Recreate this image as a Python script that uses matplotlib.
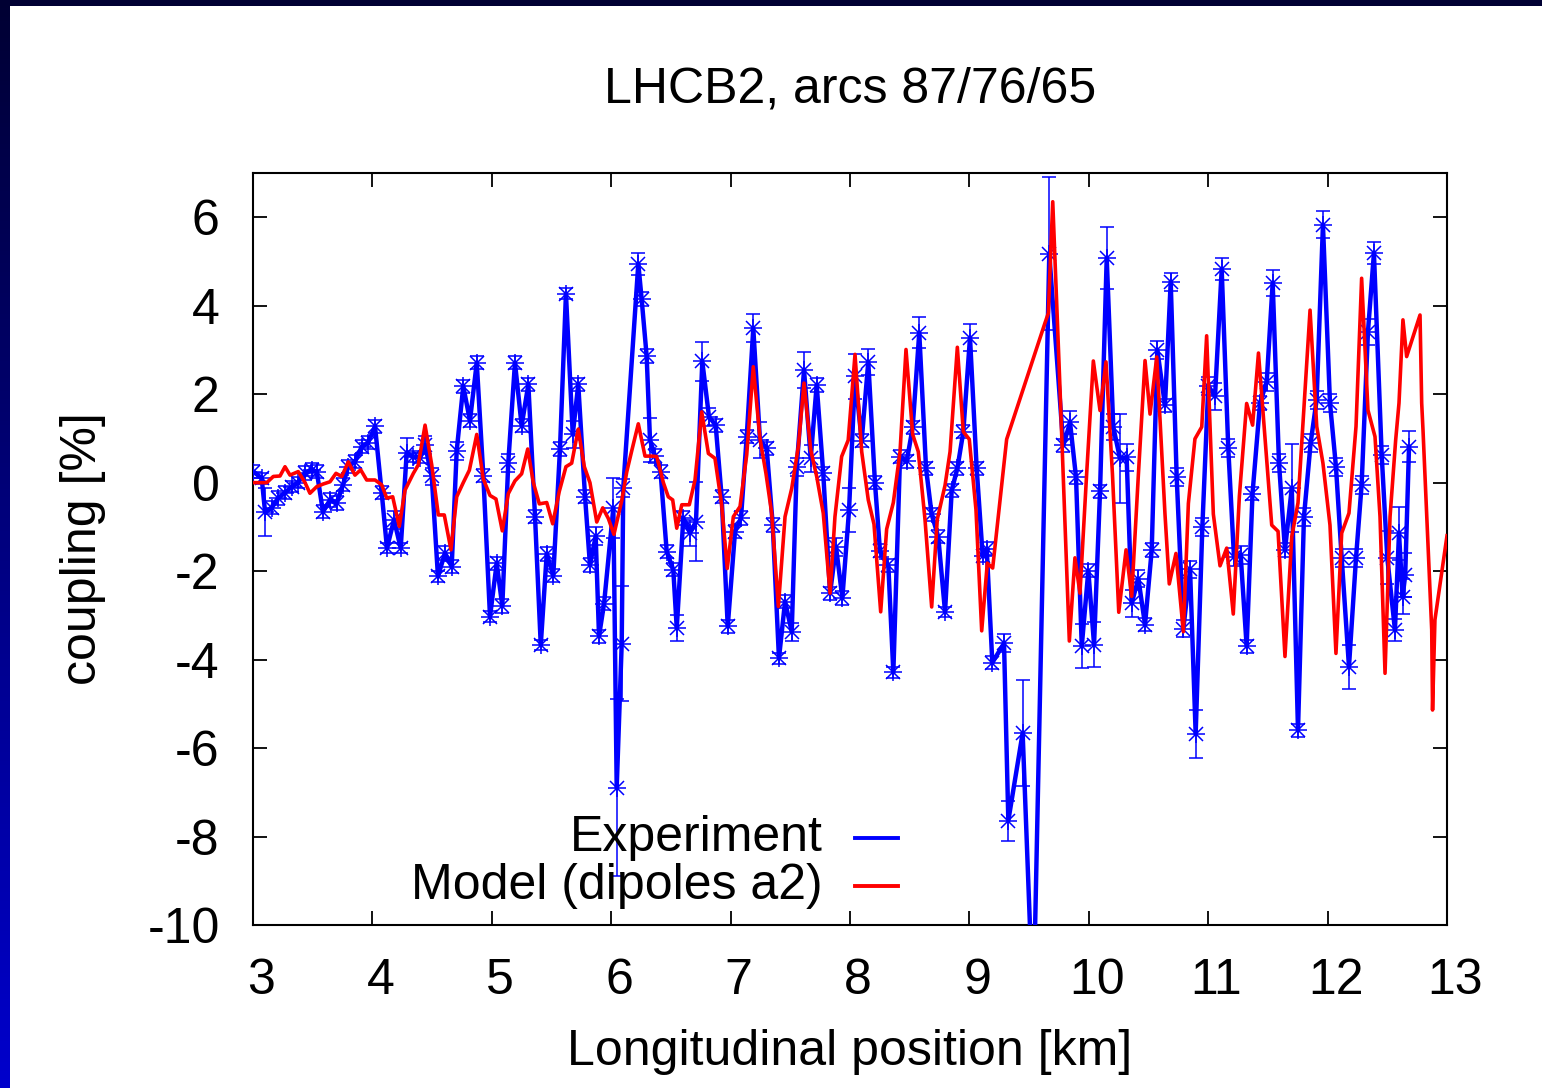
import numpy as np
import matplotlib.pyplot as plt
import matplotlib.transforms as mtransforms
from matplotlib.colors import LinearSegmentedColormap
from matplotlib.lines import Line2D

# measured coupling (BPM positions in km, coupling in %, error in %)
exp_km = [3.003, 3.073, 3.101, 3.157, 3.209, 3.268, 3.324, 3.377, 3.436, 3.492,
          3.534, 3.586, 3.645, 3.701, 3.754, 3.796, 3.854, 3.910, 3.963, 4.022,
          4.078, 4.122, 4.181, 4.237, 4.287, 4.340, 4.399, 4.441, 4.497, 4.549,
          4.608, 4.664, 4.706, 4.761, 4.817, 4.874, 4.929, 4.985, 5.041, 5.088,
          5.138, 5.194, 5.250, 5.306, 5.362, 5.410, 5.460, 5.515, 5.571, 5.621,
          5.678, 5.724, 5.781, 5.822, 5.870, 5.898, 5.940, 6.018, 6.046, 6.088,
          6.101, 6.227, 6.255, 6.297, 6.325, 6.367, 6.413, 6.465, 6.520, 6.549,
          6.604, 6.660, 6.710, 6.763, 6.819, 6.875, 6.925, 6.976, 7.037, 7.087,
          7.135, 7.190, 7.246, 7.302, 7.353, 7.405, 7.456, 7.512, 7.554, 7.615,
          7.671, 7.721, 7.776, 7.833, 7.883, 7.936, 7.992, 8.042, 8.098, 8.153,
          8.209, 8.251, 8.321, 8.363, 8.419, 8.475, 8.525, 8.580, 8.637, 8.684,
          8.739, 8.796, 8.852, 8.899, 8.949, 9.005, 9.061, 9.111, 9.145, 9.192,
          9.290, 9.326, 9.446, 9.535, 9.669, 9.786, 9.843, 9.893, 9.941, 9.996,
          10.044, 10.094, 10.150, 10.205, 10.261, 10.317, 10.359, 10.415, 10.471, 10.527,
          10.574, 10.638, 10.686, 10.736, 10.792, 10.848, 10.895, 10.951, 11.001, 11.057,
          11.113, 11.168, 11.216, 11.272, 11.322, 11.371, 11.434, 11.490, 11.540, 11.593,
          11.643, 11.700, 11.752, 11.802, 11.858, 11.908, 11.961, 12.020, 12.070, 12.118,
          12.179, 12.238, 12.285, 12.338, 12.388, 12.453, 12.500, 12.564, 12.598, 12.628,
          12.650, 12.682]
exp_cpl = [0.25, 0.10, -0.66, -0.57, -0.35, -0.23, -0.09, 0.00, 0.22, 0.29,
           0.25, -0.66, -0.39, -0.46, -0.05, 0.36, 0.47, 0.81, 0.90, 1.27,
           -0.23, -1.48, -0.84, -1.48, 0.67, 0.59, 0.56, 0.85, 0.14, -2.12,
           -1.59, -1.90, 0.72, 2.18, 1.40, 2.71, 0.16, -3.03, -1.82, -2.79,
           0.45, 2.71, 1.29, 2.22, -0.77, -3.67, -1.61, -2.10, 0.76, 4.27,
           1.09, 2.22, -0.32, -1.86, -1.21, -3.47, -2.74, -0.57, -6.90, -3.64,
           -0.12, 4.95, 4.15, 2.86, 0.96, 0.60, 0.25, -1.56, -1.97, -3.29,
           -0.80, -1.14, -0.88, 2.74, 1.49, 1.30, -0.32, -3.25, -1.11, -0.80,
           1.04, 3.49, 0.96, 0.78, -0.96, -3.97, -2.69, -3.37, 0.36, 2.55,
           0.55, 2.21, 0.21, -2.50, -1.45, -2.61, -0.62, 2.40, 0.95, 2.73,
           0.00, -1.54, -1.87, -4.29, 0.59, 0.48, 1.25, 3.39, 0.32, -0.72,
           -1.22, -2.92, -0.17, 0.32, 1.15, 3.28, 0.32, -1.65, -1.49, -4.07,
           -3.63, -7.64, -5.66, -12.0, 5.17, 0.84, 1.36, 0.12, -3.70, -1.99,
           -3.66, -0.20, 5.08, 1.26, 0.55, 0.57, -2.73, -2.17, -3.21, -1.52,
           3.00, 1.75, 4.54, 0.13, -3.30, -1.96, -5.68, -1.00, 2.19, 1.95,
           4.82, 0.78, -1.68, -1.64, -3.70, -0.25, 1.80, 2.28, 4.51, 0.44,
           -1.52, -0.12, -5.60, -0.77, 0.90, 1.87, 5.83, 1.80, 0.36, -1.70,
           -4.16, -1.70, -0.05, 3.41, 5.19, 0.63, -1.70, -3.33, -1.14, -2.58,
           -2.09, 0.81]
exp_err = [0.15, 0.12, 0.55, 0.15, 0.15, 0.15, 0.12, 0.12, 0.15, 0.15,
           0.15, 0.15, 0.15, 0.15, 0.15, 0.15, 0.15, 0.15, 0.15, 0.15,
           0.15, 0.12, 0.20, 0.12, 0.33, 0.12, 0.12, 0.20, 0.20, 0.12,
           0.15, 0.15, 0.20, 0.15, 0.15, 0.15, 0.15, 0.12, 0.15, 0.15,
           0.20, 0.15, 0.15, 0.15, 0.15, 0.12, 0.15, 0.15, 0.15, 0.12,
           0.30, 0.15, 0.15, 0.15, 0.20, 0.15, 0.15, 0.68, 2.00, 1.30,
           0.20, 0.25, 0.15, 0.15, 0.50, 0.15, 0.15, 0.15, 0.15, 0.30,
           0.15, 0.30, 0.90, 0.45, 0.20, 0.15, 0.15, 0.15, 0.15, 0.15,
           0.15, 0.32, 0.40, 0.15, 0.15, 0.12, 0.15, 0.20, 0.20, 0.40,
           0.30, 0.15, 0.15, 0.15, 0.20, 0.15, 0.50, 0.50, 0.15, 0.30,
           0.15, 0.15, 0.15, 0.12, 0.15, 0.15, 0.15, 0.35, 0.15, 0.15,
           0.15, 0.12, 0.15, 0.15, 0.15, 0.30, 0.15, 0.15, 0.15, 0.15,
           0.20, 0.45, 1.20, 0.30, 1.73, 0.15, 0.25, 0.15, 0.50, 0.15,
           0.50, 0.15, 0.70, 0.30, 1.00, 0.30, 0.30, 0.20, 0.15, 0.15,
           0.20, 0.15, 0.20, 0.20, 0.20, 0.20, 0.55, 0.20, 0.20, 0.30,
           0.25, 0.20, 0.20, 0.20, 0.15, 0.15, 0.15, 0.20, 0.30, 0.20,
           0.15, 1.00, 0.15, 0.20, 0.20, 0.20, 0.30, 0.20, 0.20, 0.20,
           0.50, 0.20, 0.20, 0.30, 0.25, 0.20, 0.60, 0.25, 0.60, 0.40,
           0.50, 0.35]

# model (dipoles a2)
mod_km = [3.003, 3.115, 3.170, 3.226, 3.268, 3.310, 3.379, 3.436, 3.477, 3.534,
          3.589, 3.645, 3.695, 3.743, 3.798, 3.854, 3.902, 3.952, 4.022, 4.078,
          4.120, 4.170, 4.225, 4.273, 4.343, 4.384, 4.441, 4.497, 4.552, 4.602,
          4.658, 4.706, 4.761, 4.812, 4.874, 4.929, 4.985, 5.035, 5.088, 5.138,
          5.194, 5.250, 5.301, 5.348, 5.398, 5.460, 5.510, 5.565, 5.621, 5.669,
          5.724, 5.775, 5.822, 5.879, 5.929, 5.976, 6.023, 6.088, 6.130, 6.172,
          6.227, 6.283, 6.339, 6.381, 6.437, 6.478, 6.515, 6.549, 6.591, 6.654,
          6.702, 6.758, 6.814, 6.869, 6.925, 6.972, 7.023, 7.079, 7.135, 7.190,
          7.246, 7.296, 7.344, 7.400, 7.456, 7.512, 7.567, 7.615, 7.671, 7.721,
          7.776, 7.833, 7.874, 7.930, 7.985, 8.042, 8.098, 8.153, 8.201, 8.257,
          8.307, 8.363, 8.419, 8.469, 8.525, 8.572, 8.628, 8.684, 8.731, 8.796,
          8.838, 8.899, 8.949, 8.999, 9.055, 9.103, 9.150, 9.195, 9.312, 9.633,
          9.661, 9.698, 9.759, 9.837, 9.884, 9.926, 9.982, 10.038, 10.094, 10.144,
          10.198, 10.251, 10.312, 10.359, 10.415, 10.471, 10.513, 10.569, 10.638, 10.674,
          10.730, 10.792, 10.834, 10.889, 10.946, 10.987, 11.043, 11.099, 11.155, 11.210,
          11.261, 11.322, 11.372, 11.421, 11.532, 11.585, 11.643, 11.700, 11.752, 11.853,
          11.909, 11.961, 12.020, 12.070, 12.118, 12.179, 12.238, 12.285, 12.338, 12.397,
          12.439, 12.481, 12.523, 12.570, 12.598, 12.631, 12.662, 12.774, 12.788, 12.799,
          12.872, 12.879, 12.899, 13.000]
mod_cpl = [0.00, 0.00, 0.14, 0.15, 0.36, 0.17, 0.25, 0.00, -0.24, -0.09,
           -0.03, 0.02, 0.21, 0.14, 0.47, 0.17, 0.29, 0.06, 0.06, -0.05,
           -0.35, -0.32, -0.99, -0.17, 0.21, 0.40, 1.30, 0.40, -0.73, -0.73,
           -1.52, -0.32, 0.00, 0.28, 1.09, 0.08, -0.29, -0.37, -1.09, -0.25,
           0.04, 0.20, 0.76, 0.00, -0.48, -0.45, -0.93, -0.20, 0.36, 0.44,
           1.21, 0.36, 0.00, -0.89, -0.57, -0.81, -1.17, -0.41, 0.24, 0.72,
           1.33, 0.60, 0.60, 0.59, 0.00, -0.32, -0.39, -1.03, -0.50, -0.50,
           0.06, 1.60, 0.66, 0.55, -0.50, -1.94, -0.77, -0.54, 0.63, 2.62,
           1.00, 0.21, -0.69, -2.80, -0.77, -0.13, 0.81, 2.25, 0.74, 0.14,
           -0.69, -2.50, -0.77, 0.59, 0.96, 2.90, 0.70, -0.39, -0.94, -2.92,
           -1.05, -0.45, 0.70, 3.01, 1.09, 0.70, -0.83, -2.81, -0.83, -0.06,
           0.70, 3.06, 1.15, 0.98, -0.61, -3.35, -1.82, -1.93, 0.98, 3.61,
           3.83, 6.35, 2.11, -3.58, -1.70, -2.50, 0.20, 2.75, 1.63, 2.73,
           0.20, -2.93, -1.52, -2.57, 0.17, 2.76, 1.55, 2.84, -0.71, -2.29,
           -1.60, -3.37, -0.47, 0.99, 1.26, 3.32, -0.71, -1.88, -1.48, -2.97,
           -0.31, 1.79, 1.30, 2.93, -0.96, -1.10, -3.93, -1.22, -0.46, 3.90,
           1.27, 0.44, -0.96, -3.86, -1.14, -0.69, 1.27, 4.62, 1.64, 1.04,
           -0.77, -4.31, -0.77, 0.96, 1.80, 3.68, 2.85, 3.79, 1.80, 1.19,
           -3.33, -5.14, -3.10, -1.20]

xticks = [3, 4, 5, 6, 7, 8, 9, 10, 11, 12, 13]
yticks = [-10, -8, -6, -4, -2, 0, 2, 4, 6]

plt.rcParams['font.family'] = ['Liberation Sans', 'DejaVu Sans']
plt.rcParams['font.size'] = 36
plt.rcParams['axes.unicode_minus'] = False

fig = plt.figure(figsize=(15.42, 10.88), dpi=100)
fig.patch.set_facecolor('white')

# dark blue slide border: gradient strip on the left, dark strip on top
W, H = 1542.0, 1088.0
side = fig.add_axes([0, 0, 10 / W, 1])
grad = np.linspace(0, 1, 256).reshape(-1, 1)
side.imshow(grad, aspect='auto', extent=[0, 1, 0, 1], origin='upper',
            cmap=LinearSegmentedColormap.from_list('edge', ['#000033', '#0000cc']))
side.set_axis_off()
top = fig.add_axes([0, 1 - 6 / H, 1, 6 / H])
top.set_facecolor('#000033')
top.set_xticks([])
top.set_yticks([])
for s in top.spines.values():
    s.set_visible(False)

ax = fig.add_axes([253 / W, 1 - 925 / H, (1447 - 253) / W, (925 - 173) / H])

ax.errorbar(exp_km, exp_cpl, yerr=exp_err, fmt='none', ecolor='#0000ff',
            elinewidth=1.1, capsize=4.8, capthick=1.1, zorder=2)
ax.plot(exp_km, exp_cpl, color='#0000ff', linewidth=3.2, zorder=3)
ax.plot(exp_km, exp_cpl, linestyle='none', marker='+', markersize=13,
        markeredgewidth=1.1, color='#0000ff', zorder=4)
ax.plot(exp_km, exp_cpl, linestyle='none', marker='x', markersize=10,
        markeredgewidth=1.1, color='#0000ff', zorder=4)
ax.plot(mod_km, mod_cpl, color='#ff0000', linewidth=2.6, zorder=5)

ax.set_xlim(3, 13)
ax.set_ylim(-10, 7)
ax.set_xticks(xticks)
ax.set_yticks(yticks)
ax.tick_params(direction='in', length=10, width=1.3, top=True, right=True, pad=24)
# gnuplot puts the x labels a little right of the tick
shift = mtransforms.ScaledTranslation(8 / 100, 0, fig.dpi_scale_trans)
for lab in ax.get_xticklabels():
    lab.set_transform(lab.get_transform() + shift)
for s in ax.spines.values():
    s.set_linewidth(1.5)

ax.set_title('LHCB2, arcs 87/76/65', y=1.0997, va='center', fontsize=36)
ax.set_xlabel('Longitudinal position [km]', fontsize=36, va='center')
ax.xaxis.set_label_coords(0.5, -0.169)
ax.set_ylabel('coupling [%]', fontsize=36, va='center')
ax.yaxis.set_label_coords(-0.1424, 0.5)

# gnuplot-style key: text first, then the line sample
for label, col, yk in [('Experiment', '#0000ff', 0.1157), ('Model (dipoles a2)', '#ff0000', 0.0519)]:
    ax.text(0.4774, yk, label, transform=ax.transAxes, ha='right', va='center', fontsize=36)
    ax.add_line(Line2D([0.5042, 0.5402], [yk, yk], transform=ax.transAxes,
                       color=col, linewidth=2.8))

plt.savefig('out.png', dpi=100)
